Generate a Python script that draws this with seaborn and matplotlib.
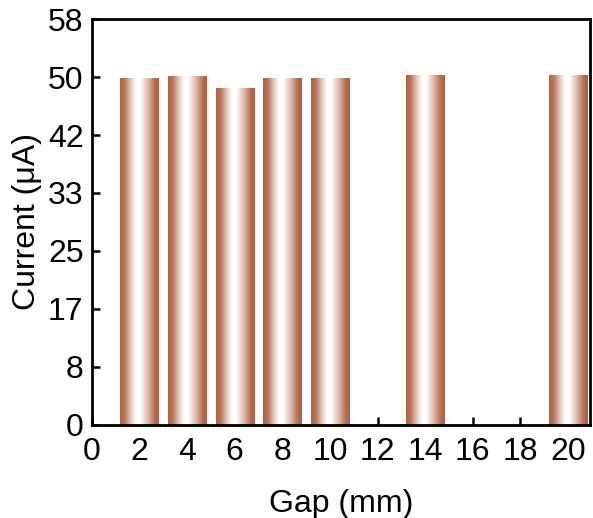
import numpy as np
import pandas as pd
import matplotlib
matplotlib.use("Agg")
import matplotlib.pyplot as plt
from matplotlib.colors import LinearSegmentedColormap
import seaborn as sns

# Measured current for each electrode gap
gap_mm = [2, 4, 6, 8, 10, 14, 20]
current_uA = [49.7, 49.9, 48.3, 49.7, 49.7, 50.1, 50.1]

x_ticks = [0, 2, 4, 6, 8, 10, 12, 14, 16, 18, 20]
y_ticks = [0, 8.3, 16.6, 24.9, 33.2, 41.5, 49.8, 58.1]
y_tick_labels = ["0", "8", "17", "25", "33", "42", "50", "58"]

sns.set_style("ticks")
plt.rcParams["font.family"] = ["Liberation Sans", "DejaVu Sans"]
plt.rcParams["text.color"] = "black"
plt.rcParams["axes.labelcolor"] = "black"

df = pd.DataFrame({"gap": gap_mm, "current": current_uA})

fig = plt.figure(figsize=(5.93, 5.18), dpi=100)
ax = fig.add_axes([0.155, 0.18, 0.84, 0.783])

sns.barplot(data=df, x="gap", y="current", native_scale=True, width=0.8,
            color="#b5674a", errorbar=None, ax=ax)

# Copper-like shading: brown edges fading to white in the middle
cmap = LinearSegmentedColormap.from_list(
    "copper_bar",
    [(0.0, "#b0613f"), (0.12, "#b8755a"), (0.30, "#e9d2c8"), (0.42, "#ffffff"),
     (0.52, "#ffffff"), (0.72, "#dcb7a8"), (0.90, "#b56c4e"), (1.0, "#ae5f3e")])
grad = np.linspace(0, 1, 256).reshape(1, -1)
for patch in list(ax.patches):
    x0, y0 = patch.get_x(), patch.get_y()
    w, h = patch.get_width(), patch.get_height()
    patch.set_facecolor("none")
    patch.set_edgecolor("none")
    im = ax.imshow(grad, cmap=cmap, aspect="auto", interpolation="bilinear",
                   extent=(x0, x0 + w, y0, y0 + h), zorder=2)
    im.set_clip_path(patch)

ax.set_xlim(0, 20.93)
ax.set_ylim(0, 58.1)
ax.set_xticks(x_ticks)
ax.set_xticklabels([str(t) for t in x_ticks])
ax.set_yticks(y_ticks)
ax.set_yticklabels(y_tick_labels)

for side in ["left", "right", "top", "bottom"]:
    ax.spines[side].set_visible(True)
    ax.spines[side].set_linewidth(2.0)
    ax.spines[side].set_color("black")

ax.tick_params(axis="both", direction="in", length=6, width=1.8,
               labelsize=23, colors="black")
ax.tick_params(axis="x", top=False, pad=9)
ax.tick_params(axis="y", right=False, pad=6)

ax.set_xlabel("Gap (mm)", fontsize=23, labelpad=16)
ax.set_ylabel("Current (μA)", fontsize=23, labelpad=4)

fig.savefig("out.png", dpi=100)
